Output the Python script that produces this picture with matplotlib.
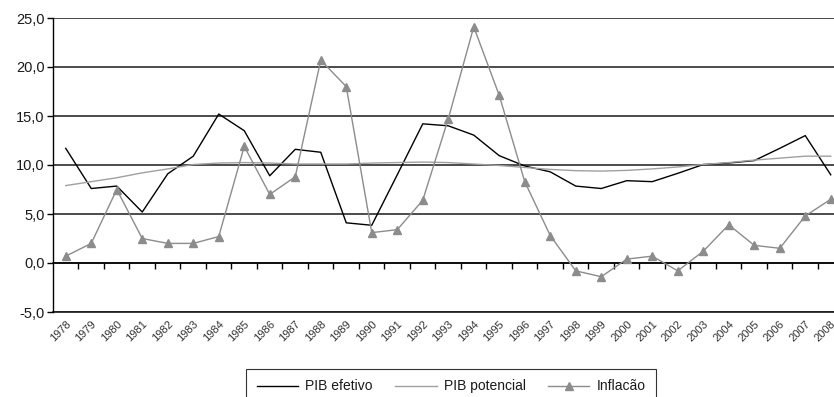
import matplotlib
matplotlib.use("Agg")
import matplotlib.pyplot as plt
from matplotlib.ticker import FixedLocator, FuncFormatter

plt.rcParams['font.family'] = ['Liberation Sans', 'DejaVu Sans']

anos = [str(a) for a in range(1978, 2009)]

pib_efetivo = [11.7, 7.6, 7.85, 5.2, 9.1, 10.9, 15.2, 13.5, 8.9, 11.6, 11.3,
               4.1, 3.85, 9.0, 14.2, 14.0, 13.05, 10.95, 9.9, 9.3, 7.85,
               7.6, 8.4, 8.3, 9.15, 10.05, 10.2, 10.45, 11.7, 13.0, 9.0]

pib_potencial = [7.9, 8.3, 8.7, 9.2, 9.6, 10.05, 10.2, 10.25, 10.2, 10.1, 10.1,
                 10.1, 10.2, 10.25, 10.3, 10.25, 10.1, 9.95, 9.75, 9.55, 9.42,
                 9.38, 9.45, 9.6, 9.8, 10.05, 10.25, 10.5, 10.7, 10.9, 10.9]

inflacao = [0.7, 2.0, 7.5, 2.5, 2.0, 2.0, 2.7, 11.9, 7.0, 8.8, 20.7,
            18.0, 3.1, 3.4, 6.4, 14.7, 24.1, 17.1, 8.3, 2.8, -0.8,
            -1.4, 0.4, 0.7, -0.8, 1.2, 3.9, 1.8, 1.5, 4.8, 6.5]

yticks = [-5, 0, 5, 10, 15, 20, 25]

fig = plt.figure(figsize=(8.34, 3.97), dpi=100)
ax = fig.add_axes([53 / 834, 1 - 312 / 397, 790.5 / 834, 294 / 397])

x = list(range(len(anos)))
ax.plot(x, pib_efetivo, color='black', lw=1.0, zorder=3, label='PIB efetivo')
ax.plot(x, pib_potencial, color='#a0a0a0', lw=1.0, zorder=3, label='PIB potencial')
ax.plot(x, inflacao, color='#8c8c8c', lw=1.0, marker='^', markersize=6,
        markerfacecolor='#8c8c8c', markeredgecolor='#8c8c8c', zorder=4,
        label='Inflacão')

ax.set_xlim(-0.5, len(anos) - 0.5)
ax.set_ylim(-5, 25)

# horizontal grid
for v in yticks:
    ax.axhline(v, color='#1a1a1a', lw=1.1, zorder=1)

ax.set_yticks(yticks)
ax.yaxis.set_major_formatter(FuncFormatter(lambda v, p: f"{v:.1f}".replace('.', ',')))
ax.tick_params(axis='y', direction='out', length=4, width=1, labelsize=10.5,
               pad=2, colors='black')
for lab in ax.get_yticklabels():
    lab.set_color('#1a1a1a')

for s in ['top', 'right']:
    ax.spines[s].set_visible(False)
ax.spines['left'].set_linewidth(1.0)

# category axis crossing at zero, with tick marks between categories
ax.spines['bottom'].set_position(('data', 0))
ax.spines['bottom'].set_linewidth(1.1)
ax.xaxis.set_major_locator(FixedLocator(x))
ax.xaxis.set_minor_locator(FixedLocator([i + 0.5 for i in x[:-1]]))
ax.tick_params(axis='x', which='major', length=0, labelbottom=False)
ax.tick_params(axis='x', which='minor', direction='out', length=4, width=1)

# year labels along the bottom edge
sec = ax.secondary_xaxis('bottom')
sec.set_xticks(x)
sec.set_xticklabels(anos, rotation=45, ha='right', va='top', rotation_mode='anchor',
                    fontsize=8, color='#333333')
sec.tick_params(length=0, pad=5)
sec.spines['bottom'].set_linewidth(1.1)

leg = fig.legend(loc='upper center', bbox_to_anchor=(451 / 834, 1 - 369 / 397),
                 ncol=3, frameon=True, fancybox=False, edgecolor='black',
                 fontsize=10, handlelength=3.0, handletextpad=0.5,
                 columnspacing=1.6, borderpad=0.75, borderaxespad=0.0)
leg.get_frame().set_linewidth(0.8)
for t in leg.get_texts():
    t.set_color('#1a1a1a')

fig.savefig('out.png', dpi=100)
